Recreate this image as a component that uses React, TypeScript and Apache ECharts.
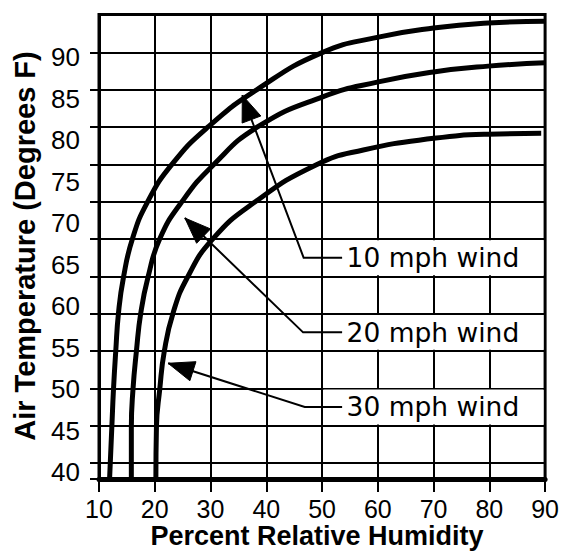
import React, { useEffect, useRef } from "react";
import * as echarts from "echarts";

// Axis ticks / labels
const humidityTicks = [10, 20, 30, 40, 50, 60, 70, 80, 90];
const temperatureLabels = [40, 45, 50, 55, 60, 65, 70, 75, 80, 85, 90];
// horizontal rules of the printed grid, in grid-row units (row 0 = lowest thin rule)
const gridRows = [-0.43, 0, 1, 2, 3, 4, 5, 6, 7, 8, 9, 10, 11];

// 10 mph wind
const hum10 = [11.9, 12.3, 12.6, 13.0, 13.5, 14.4, 16.0, 18.6, 23.0, 29.6, 38.4, 49.9, 60.1, 70.0, 79.8, 90.0];
const temp10 = [39.2, 45.4, 50.0, 54.5, 59.2, 63.5, 68.1, 72.4, 77.0, 81.6, 86.1, 90.5, 92.4, 93.5, 94.1, 94.3];
// 20 mph wind
const hum20 = [15.8, 15.8, 16.1, 16.7, 17.5, 18.8, 20.9, 24.7, 30.5, 38.5, 50.1, 60.1, 70.0, 79.8, 90.0];
const temp20 = [39.2, 45.4, 50.0, 54.5, 59.2, 63.5, 68.1, 72.4, 77.0, 81.6, 85.2, 87.0, 88.2, 88.9, 89.3];
// 30 mph wind
const hum30 = [20.2, 20.3, 20.9, 21.7, 23.3, 25.9, 30.3, 37.7, 48.9, 57.4, 70.0, 79.8, 89.3];
const temp30 = [39.2, 45.4, 50.0, 54.5, 59.2, 63.5, 68.0, 72.4, 77.0, 78.8, 80.2, 80.7, 80.8];

// annotations
const windLabels = ["10 mph wind", "20 mph wind", "30 mph wind"];
const arrowTipHum = [35.7, 25.4, 22.4];
const arrowTipTemp = [85.4, 70.6, 53.1];
const elbowHum = [46.7, 46.6, 46.9];
const labelBandRow = [5, 3, 1];

export default function App() {
  const ref = useRef<HTMLDivElement>(null);

  useEffect(() => {
    if (!ref.current) return;
    const chart = echarts.init(ref.current, null, { renderer: "svg" });

    const mkSeries = (hum: number[], temp: number[], name: string) => ({
      name,
      type: "line",
      xAxisIndex: 0,
      yAxisIndex: 0,
      data: hum.map((h, i) => [h, temp[i]]),
      symbol: "none",
      showSymbol: false,
      smooth: 0.5,
      clip: true,
      lineStyle: { color: "#000", width: 5, cap: "butt", join: "round" },
      z: 3,
    });

    const option: any = {
      animation: false,
      backgroundColor: "#fff",
      grid: {
        left: 99,
        right: 6.5,
        top: 14.5,
        bottom: 79,
        show: true,
        borderColor: "#000",
        borderWidth: 3,
        backgroundColor: "transparent",
      },
      xAxis: {
        type: "value",
        min: 10,
        max: 90,
        interval: 10,
        axisLine: { show: true, onZero: false, lineStyle: { color: "#000", width: 5 } },
        axisTick: { show: true, length: 13, lineStyle: { color: "#000", width: 2 } },
        axisLabel: {
          color: "#000",
          fontSize: 25,
          fontFamily: "Liberation Sans",
          margin: 17,
          formatter: (v: number) => (humidityTicks.includes(v) ? String(v) : ""),
        },
        splitLine: { show: true, lineStyle: { color: "#000", width: 2 } },
      },
      yAxis: [
        {
          type: "value",
          min: 39.16,
          max: 95.12,
          position: "left",
          axisLine: { show: false },
          axisTick: { show: false },
          splitLine: { show: false },
          axisLabel: {
            customValues: temperatureLabels,
            color: "#000",
            fontSize: 26,
            fontFamily: "Liberation Sans",
            margin: 19,
          },
        },
        {
          type: "value",
          min: -0.43,
          max: 12.02,
          position: "left",
          axisLine: { show: true, onZero: false, lineStyle: { color: "#000", width: 3 } },
          axisTick: {
            show: true,
            length: 9,
            customValues: gridRows,
            lineStyle: { color: "#000", width: 2 },
          },
          axisLabel: { show: false },
          splitLine: { show: true, lineStyle: { color: "#000", width: 2 } },
        },
      ],
      series: [
        mkSeries(hum10, temp10, "10 mph wind"),
        mkSeries(hum20, temp20, "20 mph wind"),
        mkSeries(hum30, temp30, "30 mph wind"),
      ],
    };
    chart.setOption(option);

    const px = (h: number, t: number) =>
      chart.convertToPixel({ xAxisIndex: 0, yAxisIndex: 0 }, [h, t]) as number[];
    const xOf = (h: number) => chart.convertToPixel({ xAxisIndex: 0 }, h) as number;
    const rowY = (k: number) => chart.convertToPixel({ yAxisIndex: 1 }, k) as number;

    const elements: any[] = [];
    // white label bands
    windLabels.forEach((_, i) => {
      const k = labelBandRow[i];
      const yTop = rowY(k + 1) + 1.2;
      const yBot = rowY(k) - 1.2;
      const x0 = xOf(50) + 1.3;
      const x1 = xOf(90) - 1.6;
      elements.push({
        type: "rect",
        z: 50,
        shape: { x: x0, y: yTop, width: x1 - x0, height: yBot - yTop },
        style: { fill: "#fff" },
      });
    });
    windLabels.forEach((label, i) => {
      const k = labelBandRow[i];
      const yMid = (rowY(k) + rowY(k + 1)) / 2;
      const tip = px(arrowTipHum[i], arrowTipTemp[i]);
      const elbow = [xOf(elbowHum[i]), yMid];
      const end = [xOf(53.6), yMid];
      elements.push({
        type: "polyline",
        z: 60,
        shape: { points: [tip, elbow, end] },
        style: { stroke: "#000", lineWidth: 2, fill: null },
      });
      const dx = tip[0] - elbow[0];
      const dy = tip[1] - elbow[1];
      const len = Math.hypot(dx, dy);
      const ux = dx / len;
      const uy = dy / len;
      const L = 26;
      const W = 10;
      const bx = tip[0] - ux * L;
      const by = tip[1] - uy * L;
      elements.push({
        type: "polygon",
        z: 61,
        shape: {
          points: [
            [tip[0], tip[1]],
            [bx - uy * W, by + ux * W],
            [bx + uy * W, by - ux * W],
          ],
        },
        style: { fill: "#000", stroke: "#000", lineWidth: 1 },
      });
      elements.push({
        type: "text",
        z: 62,
        x: xOf(54.4),
        y: yMid,
        style: {
          text: label,
          fill: "#000",
          fontSize: 26.5,
          fontFamily: "DejaVu Sans",
          align: "left",
          verticalAlign: "middle",
          textAlign: "left",
          textVerticalAlign: "middle",
        },
      });
    });
    // axis titles
    elements.push({
      type: "text",
      z: 62,
      x: 317,
      y: 536,
      style: {
        text: "Percent Relative Humidity",
        fill: "#000",
        fontSize: 27,
        fontWeight: "bold",
        fontFamily: "Liberation Sans",
        align: "center",
        verticalAlign: "middle",
        textAlign: "center",
        textVerticalAlign: "middle",
      },
    });
    elements.push({
      type: "text",
      z: 62,
      x: 25,
      y: 246,
      rotation: Math.PI / 2,
      style: {
        text: "Air Temperature (Degrees F)",
        fill: "#000",
        fontSize: 29,
        fontWeight: "bold",
        fontFamily: "Liberation Sans",
        align: "center",
        verticalAlign: "middle",
        textAlign: "center",
        textVerticalAlign: "middle",
      },
    });
    chart.setOption({ graphic: { elements } });

    return () => chart.dispose();
  }, []);

  return (
    <div
      ref={ref}
      style={{ position: "absolute", left: 0, top: 0, width: 562, height: 558, background: "#fff" }}
    />
  );
}
